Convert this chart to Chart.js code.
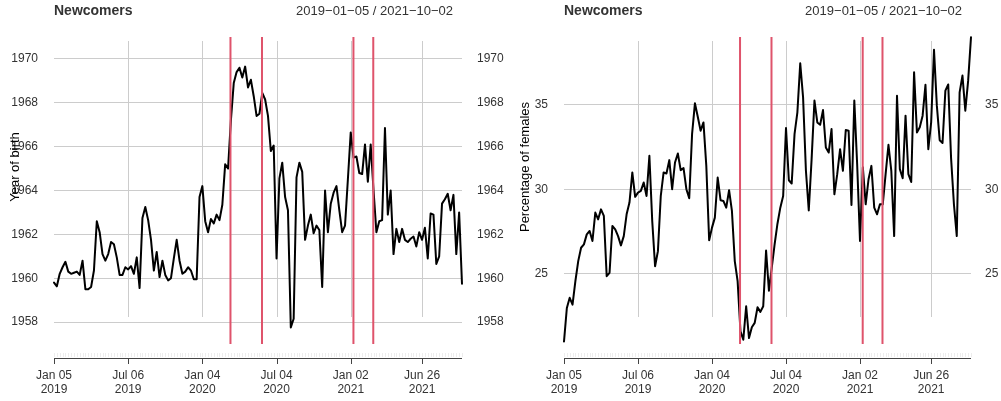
<!DOCTYPE html>
<html>
<head>
<meta charset="utf-8">
<script src="https://cdn.jsdelivr.net/npm/chart.js@4/dist/chart.umd.min.js"></script>
<style>
html,body{margin:0;padding:0;background:#fff;}
#wrap{position:relative;width:1001px;height:401px;overflow:hidden;}
canvas{position:absolute;top:0;}
</style>
</head>
<body>
<div id="wrap">
  <canvas id="chartBirth" width="520" height="401" style="left:0"></canvas>
  <canvas id="chartFemales" width="501" height="401" style="left:500px"></canvas>
</div>
<script>
// weekly series, 2019-01-05 .. 2021-10-02 (144 weeks), x = week number
var birthYear = [
  1959.8,1959.63,1960.2,1960.5,1960.75,1960.3,1960.2,1960.25,1960.3,1960.15,
  1960.8,1959.5,1959.5,1959.6,1960.35,1962.6,1962.1,1961.1,1960.8,1961.1,
  1961.65,1961.55,1960.95,1960.15,1960.15,1960.5,1960.4,1960.55,1960.2,1960.95,
  1959.55,1962.75,1963.25,1962.65,1961.75,1960.35,1961.2,1960.05,1960.8,1960.15,
  1959.9,1960.0,1960.9,1961.75,1960.8,1960.2,1960.3,1960.5,1960.35,1959.95,
  1959.95,1963.7,1964.2,1962.6,1962.1,1962.7,1962.5,1962.9,1962.65,1963.35,
  1965.2,1965.0,1967.2,1968.9,1969.4,1969.6,1969.15,1969.65,1968.7,1969.05,
  1968.3,1967.4,1967.5,1968.45,1968.15,1967.4,1965.8,1966.05,1960.9,1964.55,
  1965.27,1963.7,1963.1,1957.75,1958.15,1964.6,1965.27,1964.85,1961.75,1962.4,
  1962.9,1962.05,1962.4,1962.2,1959.6,1964.0,1962.1,1963.4,1963.9,1964.2,
  1963.1,1962.1,1962.4,1964.5,1966.65,1965.5,1965.55,1964.8,1964.75,1966.1,
  1964.4,1966.1,1964.0,1962.1,1962.6,1962.65,1966.85,1962.9,1964.0,1961.1,
  1962.25,1961.65,1962.25,1961.75,1961.65,1961.8,1961.9,1961.45,1962.1,1961.75,
  1962.3,1960.9,1962.95,1962.9,1960.65,1961.0,1963.4,1963.6,1963.85,1963.1,
  1963.8,1961.1,1963.0,1959.75
];
var femalePct = [
  21.0,22.98,23.58,23.18,24.57,25.75,26.54,26.74,27.33,27.53,
  26.94,28.62,28.22,28.81,28.42,24.86,25.06,27.83,27.63,27.23,
  26.68,27.23,28.52,29.21,30.99,29.55,29.8,29.9,30.4,29.6,
  31.98,28.12,25.45,26.34,29.6,30.99,30.93,31.72,30.0,31.58,
  32.11,31.13,31.25,30.0,29.47,33.26,35.08,34.29,33.46,33.95,
  31.38,26.98,27.73,28.32,30.69,29.35,29.31,28.91,29.94,28.72,
  25.75,24.57,21.6,21.1,23.08,21.2,21.84,22.1,23.02,22.75,
  23.08,26.38,24.0,25.36,26.74,27.96,28.91,29.6,33.62,30.53,
  30.34,33.26,34.55,37.45,35.43,31.09,28.75,31.78,35.24,33.95,
  33.81,34.68,32.47,32.17,33.56,29.7,30.89,32.37,31.09,33.5,
  33.46,29.07,35.24,31.48,26.94,31.3,29.11,30.59,31.38,28.91,
  28.52,29.11,29.11,30.89,32.63,31.09,27.23,35.53,31.19,30.65,
  34.35,30.89,30.43,36.92,33.36,33.66,34.35,36.17,32.37,33.95,
  38.24,34.94,32.9,32.73,35.83,36.19,31.84,29.11,27.23,35.73,
  36.72,34.64,36.42,38.99
];

var tickWeeks = [0, 26, 52, 78, 104, 129];
var tickLabels = [["Jan 05","2019"],["Jul 06","2019"],["Jan 04","2020"],["Jul 04","2020"],["Jan 02","2021"],["Jun 26","2021"]];
var breakWeeks = [61.85, 72.9, 104.95, 111.9];   // red event lines
var birthTicks = [1958, 1960, 1962, 1964, 1966, 1968, 1970];
var femaleTicks = [25, 30, 35];
var panelTitle = "Newcomers";
var rangeText = "2019\u221201\u221205 / 2021\u221210\u221202";

var FONT = "'Liberation Sans', Arial, Helvetica, sans-serif";

const panelDecor = {
  id: 'panelDecor',
  beforeDatasetsDraw(chart) {
    const ctx = chart.ctx;
    const x = chart.scales.x;
    ctx.save();
    ctx.strokeStyle = '#cccccc';
    ctx.lineWidth = 1;
    tickWeeks.forEach(function(w){
      if(w == 0) return;
      let px = Math.round(x.getPixelForValue(w)) + 0.5;
      ctx.beginPath(); ctx.moveTo(px, 41); ctx.lineTo(px, 317); ctx.stroke();
    });
    ctx.restore();
  },
  afterDatasetsDraw(chart) {
    const ctx = chart.ctx;
    const x = chart.scales.x;
    const area = chart.chartArea;
    ctx.save();
    ctx.strokeStyle = '#DF536B';
    ctx.lineWidth = 2;
    breakWeeks.forEach(function(w){
      let px = x.getPixelForValue(w);
      ctx.beginPath(); ctx.moveTo(px, area.top); ctx.lineTo(px, area.bottom); ctx.stroke();
    });
    ctx.restore();
  },
  afterDraw(chart, args, opts) {
    const ctx = chart.ctx;
    const x = chart.scales.x;
    const area = chart.chartArea;
    ctx.save();
    // minor weekly ticks
    ctx.strokeStyle = '#ededed';
    ctx.lineWidth = 1;
    for(let w = 0; w < birthYear.length; w++){
      let px = Math.round(x.getPixelForValue(w)) + 0.5;
      ctx.beginPath(); ctx.moveTo(px, 353); ctx.lineTo(px, 357); ctx.stroke();
    }
    // axis line + major ticks
    ctx.strokeStyle = '#444';
    ctx.beginPath();
    ctx.moveTo(x.getPixelForValue(0), 358.5);
    ctx.lineTo(x.getPixelForValue(birthYear.length - 1), 358.5);
    ctx.stroke();
    tickWeeks.forEach(function(w){
      let px = Math.round(x.getPixelForValue(w)) + 0.5;
      ctx.beginPath(); ctx.moveTo(px, 358); ctx.lineTo(px, 364); ctx.stroke();
    });
    // titles
    ctx.fillStyle = '#333';
    ctx.textBaseline = 'middle';
    ctx.font = 'bold 14px ' + FONT;
    ctx.textAlign = 'left';
    ctx.fillText(panelTitle, area.left, 11);
    ctx.font = '13px ' + FONT;
    ctx.textAlign = 'right';
    ctx.fillText(rangeText, area.right - 9, 11);
    // y title
    ctx.fillStyle = '#000';
    ctx.translate(area.left - 39, 167);
    ctx.rotate(-Math.PI / 2);
    ctx.textAlign = 'center';
    ctx.fillText(opts.yTitle, 0, 0);
    ctx.restore();
  }
};

function makePanel(id, values, yMin, yMax, yTicks, yTitle, leftW, rightW, padL, padR){
  return new Chart(document.getElementById(id), {
    type: 'line',
    data: {
      datasets: [{
        data: values.map(function(v, i){ return {x: i, y: v}; }),
        borderColor: '#000',
        borderWidth: 2,
        pointRadius: 0,
        tension: 0,
        borderJoinStyle: 'round',
        borderCapStyle: 'round',
        clip: 4
      }]
    },
    options: {
      responsive: false,
      animation: false,
      layout: { padding: { top: 37, left: 0, right: 0, bottom: 0 } },
      plugins: {
        legend: { display: false },
        tooltip: { enabled: false },
        panelDecor: { yTitle: yTitle }
      },
      scales: {
        x: {
          type: 'linear',
          min: 0,
          max: values.length - 1,
          grid: { display: false, drawTicks: false },
          border: { display: false },
          afterBuildTicks: function(s){ s.ticks = tickWeeks.map(function(w){ return {value: w}; }); },
          afterFit: function(s){ s.height = 57; },
          ticks: {
            autoSkip: false,
            maxRotation: 0,
            padding: 24,
            color: '#333',
            font: { family: FONT, size: 12 },
            callback: function(v){ return tickLabels[tickWeeks.indexOf(v)]; }
          }
        },
        y: {
          position: 'left',
          min: yMin,
          max: yMax,
          grid: { color: '#cccccc', drawTicks: false },
          border: { display: false },
          afterBuildTicks: function(s){ s.ticks = yTicks.map(function(v){ return {value: v}; }); },
          afterFit: function(s){ s.width = leftW; },
          ticks: { padding: padL, color: '#333', font: { family: FONT, size: 12 }, callback: function(v){ return String(v); } }
        },
        y2: {
          position: 'right',
          min: yMin,
          max: yMax,
          grid: { display: false, drawTicks: false },
          border: { display: false },
          afterBuildTicks: function(s){ s.ticks = yTicks.map(function(v){ return {value: v}; }); },
          afterFit: function(s){ s.width = rightW; },
          ticks: { padding: padR, color: '#333', font: { family: FONT, size: 12 }, callback: function(v){ return String(v); } }
        }
      }
    },
    plugins: [panelDecor]
  });
}

makePanel('chartBirth', birthYear, 1957, 1971, birthTicks, 'Year of birth', 54, 58, 16, 15);
makePanel('chartFemales', femalePct, 20.85, 39.0, femaleTicks, 'Percentage of females', 64, 30, 16, 14);
</script>
</body>
</html>
